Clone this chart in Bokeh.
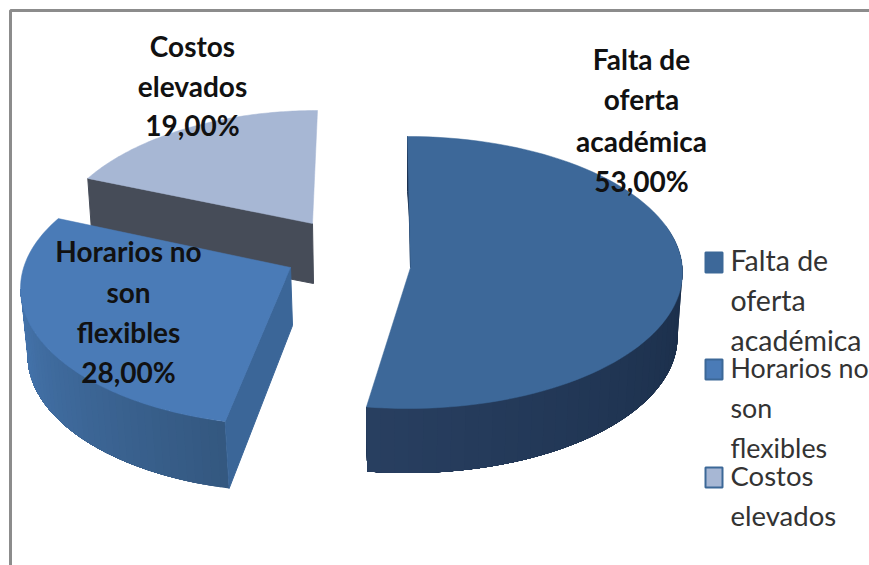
import numpy as np
from bokeh.plotting import figure
from bokeh.models import Range1d
from bokeh.core.properties import value
from bokeh.embed import file_html
from bokeh.resources import INLINE

categories = ["Falta de oferta académica", "Horarios no son flexibles", "Costos elevados"]
shares = [53.0, 28.0, 19.0]
label_lines = [["Falta de", "oferta", "académica"], ["Horarios no", "son", "flexibles"], ["Costos", "elevados"]]

top_colors = ["#3d6899", "#4a7bb7", "#a7b7d4"]
wall_left = ["#283f60", "#4575ae", "#464c58"]
wall_right = ["#182b46", "#345880", "#464c58"]

# Page-pixel layout of the exploded, perspective-warped slices
ellipses = [(407, 272, 275, 136), (290, 288, 270, 137), (317, 250, 268, 140)]
apexes = [(410, 267), (290, 267), (312, 223)]
warps = [(0, 188.6), (194, 300.7), (301, 360)]
wall_offset = [(0, 64.5, 0.982), (3, 67, 0.985), (1, 62, 0.985)]
label_pos = [(641, [58, 98, 140, 180]), (128, [250, 291, 331, 371]), (192, [45, 85, 124])]
legend_y = [[259, 299, 339], [367, 407, 447], [475, 515]]
legend_size = ["28.5px", "26.8px", "27.5px"]
swatch_y = [262, 369, 477]

FONT = "Lato"

p = figure(width=869, height=565, output_backend="svg", toolbar_location=None,
           x_range=Range1d(0, 869), y_range=Range1d(565, 0), min_border=0,
           background_fill_color="white", border_fill_color="white")
p.axis.visible = False
p.grid.visible = False
p.outline_line_color = None

# frame
p.line([10, 10, 869], [565, 10, 10], line_color="#8c8c8c", line_width=3)


def arc(i, angles_deg):
    cx, cy, rx, ry = ellipses[i]
    a = np.radians(angles_deg)
    return cx + rx * np.sin(a), cy - ry * np.cos(a)


def warped(i, n=90):
    # every slice spans its share of the circle, warped onto its drawn arc
    return np.linspace(warps[i][0], warps[i][1], n)


def low(i, x, y):
    cx = ellipses[i][0]
    dx, dy, k = wall_offset[i]
    return cx + dx + (x - cx) * k, y + dy


def mix(c1, c2, f):
    a = [int(c1[j:j + 2], 16) for j in (1, 3, 5)]
    b = [int(c2[j:j + 2], 16) for j in (1, 3, 5)]
    return "#%02x%02x%02x" % tuple(round(a[j] + (b[j] - a[j]) * f) for j in range(3))


def curved_wall(i, t0, t1, n=40):
    # painter's order: each strip runs on to the far end, so no seams show
    ts = np.linspace(t0, t1, n + 1)
    for j in range(n):
        seg = np.linspace(ts[j], t1, 40)
        x, y = arc(i, seg)
        lx, ly = low(i, x, y)
        c = mix(wall_right[i], wall_left[i], j / (n - 1))
        p.patch(np.r_[x, lx[::-1]], np.r_[y, ly[::-1]], fill_color=c, line_color=None)


# --- Costos elevados
x, y = arc(2, warped(2))
lx, ly = low(2, x, y)
ax, ay = apexes[2]
p.patch([x[0], ax, ax + 1, lx[0]], [y[0], ay, ay + 60, ly[0]], fill_color=wall_left[2], line_color=wall_left[2])
p.patch(np.r_[ax, x], np.r_[ay, y], fill_color=top_colors[2], line_color=top_colors[2], line_width=0.5)

# --- Horarios no son flexibles
curved_wall(1, warps[1][0], 270)
x, y = arc(1, warped(1))
lx, ly = low(1, x, y)
ax, ay = apexes[1]
p.patch([ax, x[0], lx[0], ax + 2], [ay, y[0], ly[0], ay + 58], fill_color="#3b6698", line_color="#3b6698")
p.patch(np.r_[ax, x], np.r_[ay, y], fill_color=top_colors[1], line_color=top_colors[1], line_width=0.5)

# --- Falta de oferta académica
curved_wall(0, 70, warps[0][1])
x, y = arc(0, warped(0))
ax, ay = apexes[0]
p.patch([x[0], x[0], ax + 2, ax], [y[0], y[0] + 55, ay - 12, ay], fill_color="#1b3150", line_color="#1b3150")
p.patch(np.r_[ax, x], np.r_[ay, y], fill_color=top_colors[0], line_color=top_colors[0], line_width=0.5)

# --- data labels
for i, (lines, v) in enumerate(zip(label_lines, shares)):
    txt = list(lines) + [f"{v:.2f}%".replace(".", ",")]
    cx, ys = label_pos[i]
    for t, yy in zip(txt, ys):
        p.text([cx], [yy], text=[t], text_align="center", text_baseline="middle",
               text_font=value(FONT), text_font_size="28px", text_font_style="bold", text_color="#111111")

# --- legend
for i, lines in enumerate(label_lines):
    p.rect([713.5], [swatch_y[i]], width=17, height=20, fill_color=top_colors[i], line_color="#3c6897", line_width=2)
    for t, yy in zip(lines, legend_y[i]):
        p.text([730], [yy], text=[t], text_align="left", text_baseline="middle",
               text_font=value(FONT), text_font_size=legend_size[i], text_color="#333333")

open("out.html", "w").write(file_html(p, INLINE))
